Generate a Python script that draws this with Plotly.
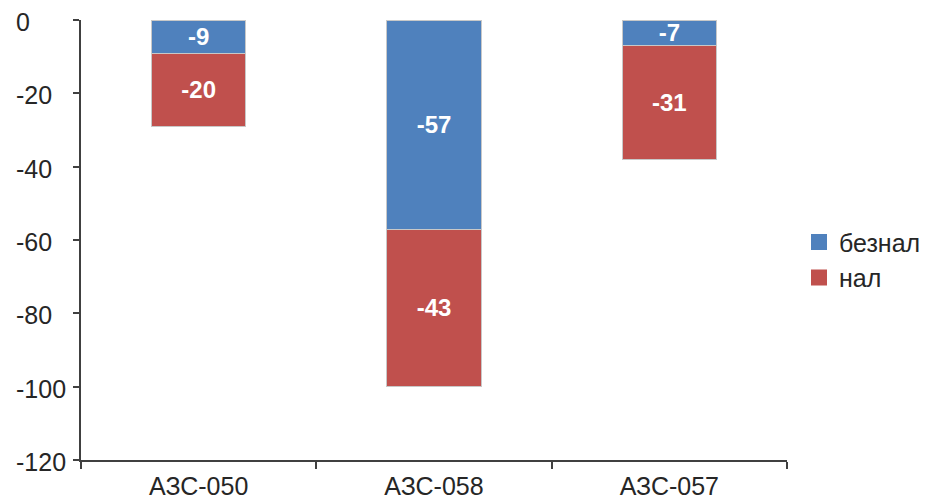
import plotly.graph_objects as go

categories = ["АЗС-050", "АЗС-058", "АЗС-057"]
beznal = [-9, -57, -7]
nal = [-20, -43, -31]
series_names = ["безнал", "нал"]
colors = ["#4F81BD", "#C0504D"]
y_ticks = [0, -20, -40, -60, -80, -100, -120]

fig = go.Figure()
for name, vals, color in zip(series_names, [beznal, nal], colors):
    fig.add_trace(go.Bar(
        x=categories, y=vals, name=name, showlegend=False,
        marker=dict(color=color, line=dict(color="#C8C8C8", width=1)),
        text=[str(v) for v in vals], textposition="inside", insidetextanchor="middle",
        textangle=0,
        textfont=dict(color="white", size=24, family="Liberation Sans"),
        texttemplate="<b>%{text}</b>", constraintext="none",
        width=0.4,
    ))
# legend entries (square swatches)
for name, color in zip(series_names, colors):
    fig.add_trace(go.Scatter(
        x=[categories[0]], y=[None], name=name, mode="markers",
        marker=dict(symbol="square", size=16, color=color, line=dict(width=0)),
        hoverinfo="skip",
    ))

# page body has an 8px margin, so the figure is 8px smaller and margins shifted
PLOT_W = 919 - 73 - 140
fig.update_layout(
    barmode="stack",
    width=919, height=493,
    margin=dict(l=73, r=140, t=12, b=41, autoexpand=False),
    plot_bgcolor="white", paper_bgcolor="white",
    font=dict(family="Liberation Sans", size=25, color="#262626"),
    showlegend=True,
    legend=dict(x=1.017, y=0.455, yanchor="middle", xanchor="left",
                font=dict(size=25, color="#262626"), tracegroupgap=0,
                itemsizing="trace", traceorder="normal", bgcolor="rgba(0,0,0,0)"),
)
# left-aligned y tick labels (as in the reference)
for v in y_ticks:
    fig.add_annotation(x=-66 / PLOT_W, xref="paper", xanchor="left",
                       y=v, yref="y", yanchor="middle", yshift=-2, borderpad=0,
                       text=str(v), showarrow=False,
                       font=dict(size=25, color="#262626"))
fig.update_yaxes(range=[-120, 0], tickvals=y_ticks, showticklabels=False,
                 showgrid=False, zeroline=False, showline=True, linecolor="#404040", linewidth=2,
                 ticks="outside", ticklen=6, tickcolor="#404040", tickwidth=2,
                 automargin=False)
fig.update_xaxes(showgrid=False, showline=True, linecolor="#404040", linewidth=2,
                 ticks="outside", ticklen=7, tickcolor="#404040", tickwidth=2,
                 tickson="boundaries", tickfont=dict(size=25), automargin=False,
                 ticklabelstandoff=3)

fig.write_html("out.html")
